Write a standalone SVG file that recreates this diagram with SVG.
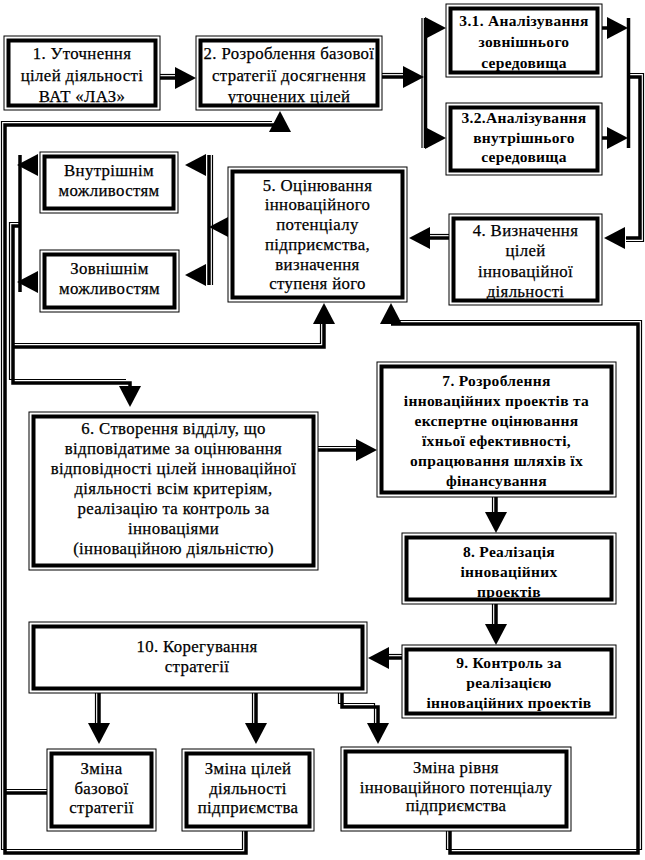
<svg xmlns="http://www.w3.org/2000/svg" xmlns:xlink="http://www.w3.org/1999/xlink" width="645" height="860" viewBox="0 0 645 860" font-family="'Liberation Serif', 'Times New Roman', serif">
<style>
.o{fill:#fff;stroke:#000;stroke-width:1}
.i{fill:none;stroke:#000;stroke-width:4}
text{font-family:'Liberation Serif','Times New Roman',serif;font-size:16.8px;text-anchor:middle;fill:#000;stroke:#000;stroke-width:0.25px;letter-spacing:0.35px}
.b{font-weight:bold;font-size:15.5px;stroke-width:0;letter-spacing:0.3px}
.k{fill:none;stroke:#000;stroke-width:3.5}
.n{fill:none;stroke:#000;stroke-width:1.2}
</style>
<defs>
<path id="ah" d="M0,0 L-21,-11 L-21,11 Z" fill="#000"/>
</defs>
<rect width="645" height="860" fill="#fff"/>
<g id="connectors">
<path class="k" d="M160,78 H176"/><path class="n" d="M160,74.5 H176"/>
<use xlink:href="#ah" transform="translate(196,78)"/>
<path class="k" d="M382,77 H404"/><path class="n" d="M382,73.5 H404"/>
<use xlink:href="#ah" transform="translate(424,77)"/>
<path class="k" d="M425.5,18 V148"/><path class="n" d="M422,18 V148"/>
<use xlink:href="#ah" transform="translate(446,28)"/>
<use xlink:href="#ah" transform="translate(446,138)"/>
<path class="k" d="M602,28 H608 M602,138 H608"/>
<use xlink:href="#ah" transform="translate(628,28)"/>
<use xlink:href="#ah" transform="translate(628,138)"/>
<path class="k" d="M628.5,18 V148"/>
<path class="k" d="M628,77 H640 V238 H626"/><path class="n" d="M630,73.5 H643.5 V241.5 H626"/>
<use xlink:href="#ah" transform="translate(604,238) rotate(180)"/>
<path class="k" d="M449,238 H430"/><path class="n" d="M449,234.5 H430"/>
<use xlink:href="#ah" transform="translate(409,238) rotate(180)"/>
<use xlink:href="#ah" transform="translate(209,227) rotate(180)"/>
<path class="k" d="M209,155 V285"/><path class="n" d="M212.5,155 V285"/>
<use xlink:href="#ah" transform="translate(185,165) rotate(180)"/>
<use xlink:href="#ah" transform="translate(185,275) rotate(180)"/>
<use xlink:href="#ah" transform="translate(17,165) rotate(180)"/>
<use xlink:href="#ah" transform="translate(17,282) rotate(180)"/>
<path class="k" d="M20,155 V292"/>
<path class="k" d="M20,226 H13 V383 H130 V388"/><path class="n" d="M20,222.5 H9.5 V379.5 H126"/>
<use xlink:href="#ah" transform="translate(130,407) rotate(90)"/>
<path class="k" d="M13,347 H324 V324"/><path class="n" d="M13,343.5 H320.5 V324"/>
<use xlink:href="#ah" transform="translate(324,303) rotate(-90)"/>
<path class="k" d="M318,450 H357"/><path class="n" d="M318,446.5 H357"/>
<use xlink:href="#ah" transform="translate(377,450)"/>
<path class="k" d="M496,497 V513"/><path class="n" d="M492.5,497 V513"/>
<use xlink:href="#ah" transform="translate(496,533) rotate(90)"/>
<path class="k" d="M496,604 V625"/><path class="n" d="M492.5,604 V625"/>
<use xlink:href="#ah" transform="translate(496,645) rotate(90)"/>
<path class="k" d="M402,658 H388"/><path class="n" d="M402,654.5 H388"/>
<use xlink:href="#ah" transform="translate(368,658) rotate(180)"/>
<path class="k" d="M99,693 V724"/><path class="n" d="M95.5,693 V724"/>
<use xlink:href="#ah" transform="translate(99,744) rotate(90)"/>
<path class="k" d="M256,693 V724"/><path class="n" d="M252.5,693 V724"/>
<use xlink:href="#ah" transform="translate(256,744) rotate(90)"/>
<path class="k" d="M342,693 V707 H378 V724"/><path class="n" d="M338.5,693 V703.5 H374.5 V724"/>
<use xlink:href="#ah" transform="translate(378,744) rotate(90)"/>
<path class="k" d="M47,793 H5"/><path class="n" d="M47,789.5 H5"/>
<path class="k" d="M246,831 V853 H5 V125 H280"/><path class="n" d="M242.5,831 V849.5 H1.5 V121.5 H272"/>
<use xlink:href="#ah" transform="translate(280,111) rotate(-90)"/>
<path class="k" d="M450,831 V853 H638 V324 H391"/><path class="n" d="M446.5,831 V849.5 H641.5 V320.5 H398"/>
<use xlink:href="#ah" transform="translate(391,303) rotate(-90)"/>
</g>
<g id="n1"><rect class="o" x="4" y="36" width="156" height="74"/><rect class="i" x="8.5" y="40.5" width="147" height="65"/>
<text x="82" y="58.5">1. Уточнення</text><text x="82" y="80.5">цілей діяльності</text><text x="82" y="101.5">ВАТ «ЛАЗ»</text></g>
<g id="n2"><rect class="o" x="196" y="36" width="186" height="74"/><rect class="i" x="200.5" y="40.5" width="177" height="65"/>
<text x="289" y="58.5">2. Розроблення базової</text><text x="289" y="80.5">стратегії досягнення</text><text x="289" y="101.5">уточнених цілей</text></g>
<g id="n31"><rect class="o" x="446" y="4" width="156" height="73"/><rect class="i" x="450.5" y="8.5" width="147" height="64"/>
<text class="b" x="524" y="25.5">3.1. Аналізування</text><text class="b" x="524" y="47">зовнішнього</text><text class="b" x="524" y="67.5">середовища</text></g>
<g id="n32"><rect class="o" x="446" y="103" width="156" height="72"/><rect class="i" x="450.5" y="107.5" width="147" height="63"/>
<text class="b" x="524" y="123">3.2.Аналізування</text><text class="b" x="524" y="143">внутрішнього</text><text class="b" x="524" y="162">середовища</text></g>
<g id="n4"><rect class="o" x="449" y="214" width="153" height="91"/><rect class="i" x="453.5" y="218.5" width="144" height="82"/>
<text x="525.5" y="235.5">4. Визначення</text><text x="525.5" y="256">цілей</text><text x="525.5" y="276.5">інноваційної</text><text x="525.5" y="297">діяльності</text></g>
<g id="n5"><rect class="o" x="228" y="167" width="179" height="135"/><rect class="i" x="232.5" y="171.5" width="170" height="126"/>
<text x="317.5" y="190.5">5. Оцінювання</text><text x="317.5" y="210">інноваційного</text><text x="317.5" y="230">потенціалу</text><text x="317.5" y="249.5">підприємства,</text><text x="317.5" y="269.5">визначення</text><text x="317.5" y="289">ступеня його</text></g>
<g id="nInt"><rect class="o" x="40" y="152" width="138" height="61"/><rect class="i" x="44.5" y="156.5" width="129" height="52"/>
<text x="109" y="175.5">Внутрішнім</text><text x="109" y="195.5">можливостям</text></g>
<g id="nExt"><rect class="o" x="40" y="250" width="139" height="62"/><rect class="i" x="44.5" y="254.5" width="130" height="53"/>
<text x="109.5" y="273.5">Зовнішнім</text><text x="109.5" y="293.5">можливостям</text></g>
<g id="n6"><rect class="o" x="29" y="412" width="289" height="158"/><rect class="i" x="33.5" y="416.5" width="280" height="149"/>
<text x="173.5" y="433.5">6. Створення відділу, що</text><text x="173.5" y="453.5">відповідатиме за оцінювання</text><text x="173.5" y="473.5">відповідності цілей інноваційної</text><text x="173.5" y="493.5">діяльності всім критеріям,</text><text x="173.5" y="513.5">реалізацію та контроль за</text><text x="173.5" y="533.5">інноваціями</text><text x="173.5" y="553.5">(інноваційною діяльністю)</text></g>
<g id="n7"><rect class="o" x="377" y="362" width="239" height="135"/><rect class="i" x="381.5" y="366.5" width="230" height="126"/>
<text class="b" x="496.5" y="385.5">7. Розроблення</text><text class="b" x="496.5" y="405.5">інноваційних проектів та</text><text class="b" x="496.5" y="425.5">експертне оцінювання</text><text class="b" x="496.5" y="445.5">їхньої ефективності,</text><text class="b" x="496.5" y="465.5">опрацювання шляхів їх</text><text class="b" x="496.5" y="485.5">фінансування</text></g>
<g id="n8"><rect class="o" x="402" y="533" width="214" height="71"/><rect class="i" x="406.5" y="537.5" width="205" height="62"/>
<text class="b" x="509" y="557">8. Реалізація</text><text class="b" x="509" y="577">інноваційних</text><text class="b" x="509" y="597">проектів</text></g>
<g id="n9"><rect class="o" x="402" y="645" width="214" height="73"/><rect class="i" x="406.5" y="649.5" width="205" height="64"/>
<text class="b" x="509" y="668">9. Контроль за</text><text class="b" x="509" y="688">реалізацією</text><text class="b" x="509" y="708">інноваційних проектів</text></g>
<g id="n10"><rect class="o" x="29" y="622" width="338" height="71"/><rect class="i" x="33.5" y="626.5" width="329" height="62"/>
<text x="197" y="651.5">10. Корегування</text><text x="197" y="671.5">стратегії</text></g>
<g id="nA"><rect class="o" x="47" y="749" width="109" height="82"/><rect class="i" x="51.5" y="753.5" width="100" height="73"/>
<text x="101.5" y="773.5">Зміна</text><text x="101.5" y="793.5">базової</text><text x="101.5" y="813">стратегії</text></g>
<g id="nB"><rect class="o" x="182" y="749" width="132" height="82"/><rect class="i" x="186.5" y="753.5" width="123" height="73"/>
<text x="248" y="773.5">Зміна цілей</text><text x="248" y="793.5">діяльності</text><text x="248" y="813">підприємства</text></g>
<g id="nC"><rect class="o" x="341" y="747" width="230" height="84"/><rect class="i" x="345.5" y="751.5" width="221" height="75"/>
<text x="456" y="772.5">Зміна рівня</text><text x="456" y="792.5">інноваційного потенціалу</text><text x="456" y="811">підприємства</text></g>
</svg>
